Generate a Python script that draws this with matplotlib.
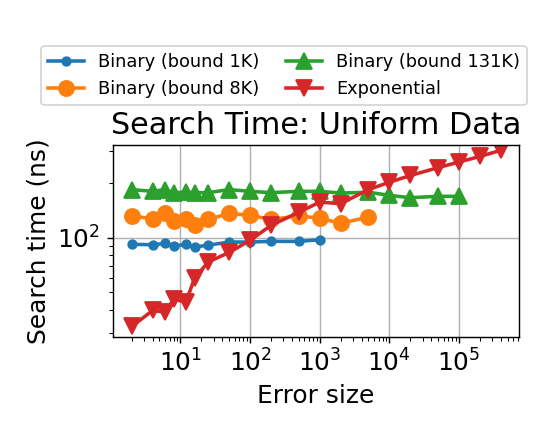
import numpy as np
import matplotlib
matplotlib.use("Agg")
import matplotlib.pyplot as plt

# error sizes
err = [2, 4, 6, 8, 12, 16, 25, 50, 100, 200, 500, 1000, 2000, 5000,
       10000, 20000, 50000, 100000, 200000, 400000]

# search time (ns)
bin_1k = [92, 91.5, 93, 90, 92, 88.9, 91, 94.7, 94.7, 95.5, 95.5, 97.5]
bin_8k = [132, 127, 136, 123, 127, 118, 126, 136, 133, 126, 132, 128, 120, 130]
bin_131k = [184, 180, 184, 177, 178, 177, 177, 184, 180, 177, 180, 180, 176,
            178, 171, 166, 169, 169]
expo = [32.5, 39.8, 39, 45.8, 44.3, 60, 73.5, 83, 96.7, 117, 138, 157, 154,
        184, 202, 220, 243, 261, 280, 303]

DPI = 128
fig = plt.figure(figsize=(541 / DPI, 430 / DPI), dpi=DPI)
ax = fig.add_axes([0.209, 0.216, 0.750, 0.447])

ax.plot(err[:len(bin_1k)], bin_1k, marker='o', markersize=4.8, linewidth=2,
        color='tab:blue', label='Binary (bound 1K)')
ax.plot(err[:len(bin_8k)], bin_8k, marker='o', markersize=8.5, linewidth=2,
        color='tab:orange', label='Binary (bound 8K)')
ax.plot(err[:len(bin_131k)], bin_131k, marker='^', markersize=8.5, linewidth=2,
        color='tab:green', label='Binary (bound 131K)')
ax.plot(err, expo, marker='v', markersize=8.5, linewidth=2,
        color='tab:red', label='Exponential')

ax.set_xscale('log')
ax.set_yscale('log')
ax.set_xlim(1.08, 7.2e5)
ax.set_ylim(28.4, 324)
ax.grid(True)
ax.tick_params(labelsize=14)

ax.set_xlabel('Error size', fontsize=14)
ax.set_ylabel('Search time (ns)', fontsize=14)
ax.set_title('Search Time: Uniform Data', fontsize=17)

fig.legend(loc='upper center', bbox_to_anchor=(0.525, 0.905), ncol=2,
           fontsize=10, borderaxespad=0.3, columnspacing=1.5)

fig.savefig('out.png', dpi=DPI)
